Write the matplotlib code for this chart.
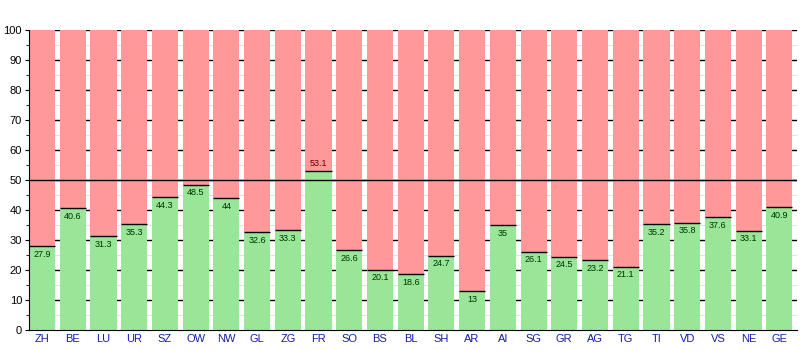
import matplotlib
matplotlib.use('Agg')
import matplotlib.pyplot as plt
import numpy as np

plt.rcParams['font.family'] = ['Liberation Sans', 'DejaVu Sans']

cantons = ['ZH', 'BE', 'LU', 'UR', 'SZ', 'OW', 'NW', 'GL', 'ZG', 'FR', 'SO', 'BS', 'BL',
           'SH', 'AR', 'AI', 'SG', 'GR', 'AG', 'TG', 'TI', 'VD', 'VS', 'NE', 'GE']
yes_share = [27.9, 40.6, 31.3, 35.3, 44.3, 48.5, 44, 32.6, 33.3, 53.1, 26.6, 20.1, 18.6,
             24.7, 13, 35, 26.1, 24.5, 23.2, 21.1, 35.2, 35.8, 37.6, 33.1, 40.9]

green = '#99e699'
red = '#ff9999'
w = 0.85

fig = plt.figure(figsize=(8.01, 3.5), dpi=100)
ax = fig.add_axes([29 / 801, 20 / 350, 768 / 801, 300 / 350])

x = np.arange(len(cantons))
yes = np.array(yes_share)
no = 100 - yes

# grid behind the bars
for v in range(10, 101, 10):
    ax.axhline(v, color='black', lw=1, zorder=0)
for v in range(5, 100, 10):
    ax.axhline(v, color='#dddddd', lw=0.6, zorder=0)

ax.bar(x, yes, width=w, align='edge', color=green, zorder=2)
ax.bar(x, no, bottom=yes, width=w, align='edge', color=red, zorder=2)
ax.hlines(yes, x, x + w, color='black', lw=1, zorder=3)

for xi, v in zip(x, yes):
    lbl = '%g' % v
    if v > 50:
        ax.text(xi + w / 2, v + 0.8, lbl, ha='center', va='bottom', fontsize=6.5,
                color='#660000', zorder=4)
    else:
        ax.text(xi + w / 2, v - 1.2, lbl, ha='center', va='top', fontsize=6.5,
                color='#003300', zorder=4)

ax.axhline(50, color='black', lw=1, zorder=5)

ax.set_xlim(0, len(cantons))
ax.set_ylim(0, 100)
ax.set_xticks(x + w / 2)
ax.set_xticklabels(cantons, color='#1a1aaa', fontsize=8)
ax.tick_params(axis='x', length=0, pad=3)
ax.set_yticks(range(0, 101, 10))
ax.set_yticks(range(5, 100, 10), minor=True)
ax.tick_params(axis='y', labelsize=8, length=3, pad=2)
ax.tick_params(axis='y', which='minor', length=2)
for s in ['top', 'right']:
    ax.spines[s].set_visible(False)
ax.spines['left'].set_zorder(6)
ax.spines['bottom'].set_zorder(6)

plt.savefig('out.png', dpi=100)
